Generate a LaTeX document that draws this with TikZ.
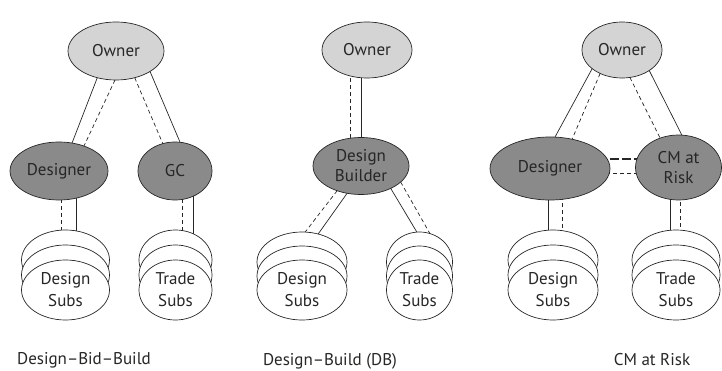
\documentclass[tikz,border=0pt]{standalone}
\usepackage{fontspec}
\setmainfont{PT Sans}
\usetikzlibrary{shapes.geometric,backgrounds}

\definecolor{ownerfill}{gray}{0.83}
\definecolor{partyfill}{gray}{0.54}
\definecolor{ink}{gray}{0.15}

\tikzset{
  x=1pt, y=-1pt,
  party/.style={ellipse, draw=ink, line width=0.7pt, inner sep=0pt, outer sep=0pt,
    align=center, text=ink, font=\fontsize{17}{20}\selectfont},
  ownernode/.style={party, fill=ownerfill},
  firmnode/.style={party, fill=partyfill},
  subnode/.style={party, fill=white, font=\fontsize{17}{22}\selectfont},
  solidlink/.style={draw=ink, line width=0.7pt},
  dashlink/.style={draw=ink, line width=0.7pt, dash pattern=on 4pt off 3pt},
  heavydash/.style={draw=ink, line width=1.3pt, dash pattern=on 9pt off 3pt},
  caption/.style={font=\fontsize{17}{20}\selectfont, text=ink, inner sep=0pt},
}

% stack of three sub-contractor discs: name, x, y of front disc, width, height, step, text
\newcommand\drawsubstack[7]{%
  \node[subnode, minimum width=#4, minimum height=#5] (#1b) at (#2,{#3-2*#6}) {};
  \node[subnode, minimum width=#4, minimum height=#5] (#1m) at (#2,{#3-#6}) {};
  \node[subnode, minimum width=#4, minimum height=#5] (#1) at (#2,#3) {#7};
}

\begin{document}
\begin{tikzpicture}
\useasboundingbox (0,0) rectangle (722,371);

% ---------- Design-Bid-Build ----------
\node[ownernode, minimum width=96, minimum height=58] (o1) at (116,51) {Owner};
\node[firmnode, minimum width=98, minimum height=58] (d1) at (59,171) {Designer};
\node[firmnode, minimum width=74, minimum height=58] (g1) at (175,171) {GC};
\drawsubstack{s1}{65.5}{290}{88}{60}{15}{Design\\Subs}
\drawsubstack{t1}{175.5}{290}{73}{60}{15}{Trade\\Subs}

\draw[solidlink] (o1.235) -- (d1.65);
\draw[dashlink] (o1.268) -- (d1.45);
\draw[dashlink] (o1.305) -- (g1.114);
\draw[solidlink] (o1.329) -- (g1.80);

\begin{scope}[on background layer]
  \draw[dashlink] ([xshift=2pt]d1.center) -- ([xshift=2pt]d1.center |- s1b.center);
  \draw[solidlink] ([xshift=17pt]d1.center) -- ([xshift=17pt]d1.center |- s1b.center);
  \draw[dashlink] ([xshift=7pt]g1.center) -- ([xshift=7pt]g1.center |- t1b.center);
  \draw[solidlink] ([xshift=18pt]g1.center) -- ([xshift=18pt]g1.center |- t1b.center);
\end{scope}

\node[caption] (cap1) at (84,360) {Design–Bid–Build};

% ---------- Design-Build ----------
\node[ownernode, minimum width=90, minimum height=56] (o2) at (367,50) {Owner};
\node[firmnode, minimum width=96, minimum height=57] (b2) at (361,166) {Design\\Builder};
\drawsubstack{s2}{302}{290}{90}{60}{14}{Design\\Subs}
\drawsubstack{t2}{419.5}{290}{66}{60}{14}{Trade\\Subs}

\begin{scope}[on background layer]
  \draw[dashlink] ([xshift=-11pt]b2.center) -- ([xshift=-11pt]b2.center |- o2.center);
  \draw[solidlink] (b2.center) -- (b2.center |- o2.center);
\end{scope}

\draw[dashlink] (b2.226) -- (s2b.84);
\draw[solidlink] (b2.243) -- (s2b.60);
\draw[solidlink] (b2.323) -- (t2b.95);
\draw[dashlink] (b2.338) -- (t2b.70);

\node[caption] (cap2) at (330,361) {Design–Build (DB)};

% ---------- CM at Risk ----------
\node[ownernode, minimum width=80, minimum height=56] (o3) at (622,50) {Owner};
\node[firmnode, minimum width=120, minimum height=63] (d3) at (550,168.5) {Designer};
\node[firmnode, minimum width=86, minimum height=65] (c3) at (678.5,167.5) {CM at\\Risk};
\drawsubstack{s3}{553}{290}{90}{60}{15}{Design\\Subs}
\drawsubstack{t3}{676}{290}{88}{60}{15}{Trade\\Subs}

\draw[solidlink] (o3.212) -- (d3.81);
\draw[dashlink] (o3.227) -- (d3.53);
\draw[dashlink] (o3.286) -- (c3.122);
\draw[solidlink] (o3.323) -- (c3.84);

\begin{scope}[on background layer]
  \draw[heavydash] ([yshift=9.5pt]d3.center) -- ([yshift=9.5pt]d3.center -| c3.center);
  \draw[dashlink] ([yshift=-4.5pt]d3.center) -- ([yshift=-4.5pt]d3.center -| c3.center);
  \draw[solidlink] ([xshift=-2pt]d3.center) -- ([xshift=-2pt]d3.center |- s3b.center);
  \draw[dashlink] ([xshift=12pt]d3.center) -- ([xshift=12pt]d3.center |- s3b.center);
  \draw[solidlink] ([xshift=-8.5pt]c3.center) -- ([xshift=-8.5pt]c3.center |- t3b.center);
  \draw[dashlink] ([xshift=1.5pt]c3.center) -- ([xshift=1.5pt]c3.center |- t3b.center);
\end{scope}

\node[caption] (cap3) at (652,360) {CM at Risk};
\end{tikzpicture}
\end{document}
